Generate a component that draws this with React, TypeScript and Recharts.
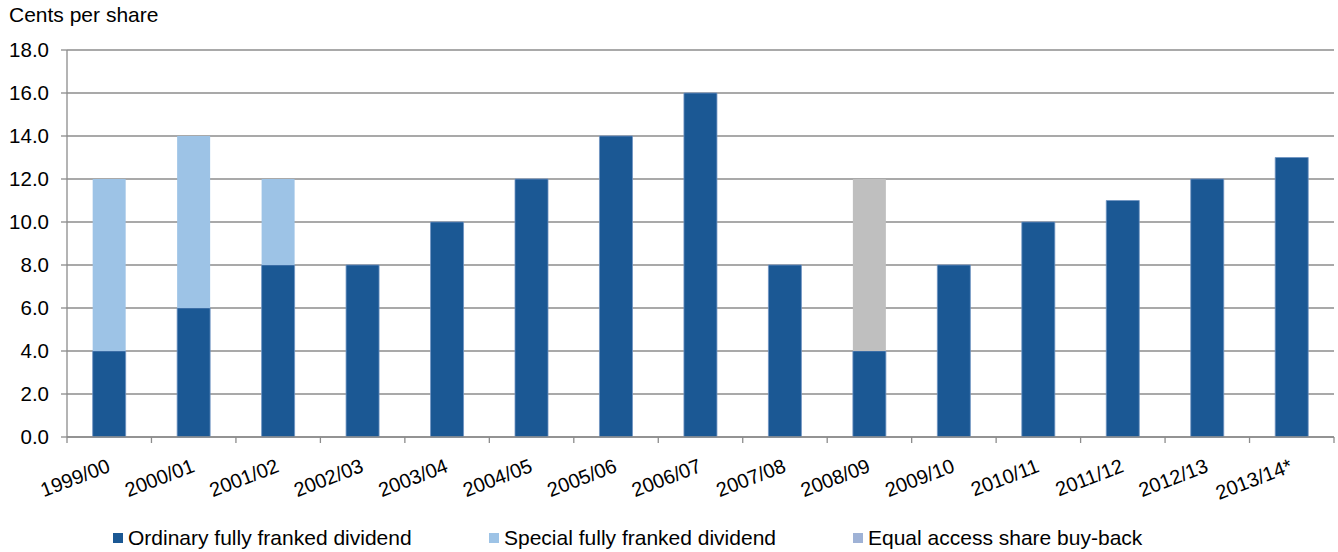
import { BarChart, Bar, XAxis, YAxis, CartesianGrid } from "recharts";

const YEARS = ["1999/00","2000/01","2001/02","2002/03","2003/04","2004/05","2005/06","2006/07","2007/08","2008/09","2009/10","2010/11","2011/12","2012/13","2013/14*"];
const ORDINARY = [4, 6, 8, 8, 10, 12, 14, 16, 8, 4, 8, 10, 11, 12, 13];
const SPECIAL = [8, 8, 4, 0, 0, 0, 0, 0, 0, 0, 0, 0, 0, 0, 0];
const BUYBACK = [0, 0, 0, 0, 0, 0, 0, 0, 0, 8, 0, 0, 0, 0, 0];
const Y_TICKS = [0, 2, 4, 6, 8, 10, 12, 14, 16, 18];

const W = 1338;
const H = 552;
const M = { top: 50, right: 4, bottom: 0, left: 0 };
const Y_W = 67;
const X_H = 115;
const PLOT_W = W - M.left - M.right - Y_W;
const BAND = PLOT_W / YEARS.length;
const FONT = '"Liberation Sans", Arial, sans-serif';
const GRID = "#8C8C8C";

const data = YEARS.map((y, i) => ({
  year: y, ordinary: ORDINARY[i], special: SPECIAL[i], buyback: BUYBACK[i],
}));

const LEGEND = [
  { label: "Ordinary fully franked dividend", color: "#1B5894", left: 113 },
  { label: "Special fully franked dividend", color: "#9DC3E6", left: 489 },
  { label: "Equal access share buy-back", color: "#9FB2D6", left: 853 },
];

const TICK_SIZE = 6;
const TICK_MARGIN = 12;

function XTick(props: any) {
  const { x, y, payload, index } = props;
  const axisY = y - TICK_SIZE - TICK_MARGIN;
  const left = x - BAND / 2;
  const tx = x - 3;
  const ty = y + 3;
  return (
    <g>
      <line x1={left} x2={left} y1={axisY} y2={axisY + TICK_SIZE} stroke={GRID} strokeWidth={1.3} />
      {index === YEARS.length - 1 && (
        <line x1={x + BAND / 2} x2={x + BAND / 2} y1={axisY} y2={axisY + TICK_SIZE} stroke={GRID} strokeWidth={1.3} />
      )}
      <text x={tx} y={ty} dy="0.71em" textAnchor="end" transform={`rotate(-21, ${tx}, ${ty})`}
        fontSize={20} fill="#000" fontFamily={FONT}>
        {payload.value}
      </text>
    </g>
  );
}

export default function App() {
  return (
    <div style={{ position: "absolute", left: 0, top: 0, width: W, height: H, background: "#fff", fontFamily: FONT }}>
      <div style={{ position: "absolute", left: 9, top: 3, fontSize: 21, color: "#000" }}>Cents per share</div>
      <BarChart width={W} height={H} data={data} margin={M} barCategoryGap="30.4%">
        <CartesianGrid vertical={false} stroke={GRID} strokeWidth={1.3} />
        <XAxis dataKey="year" interval={0} height={X_H} tick={<XTick />} tickLine={false}
          tickSize={TICK_SIZE} tickMargin={TICK_MARGIN} axisLine={{ stroke: GRID, strokeWidth: 1.3 }} />
        <YAxis width={Y_W} domain={[0, 18]} ticks={Y_TICKS} interval={0}
          tickFormatter={(v: number) => v.toFixed(1)} tickSize={TICK_SIZE} tickMargin={TICK_MARGIN}
          tick={{ fontSize: 20.5, fill: "#000", fontFamily: FONT }}
          tickLine={{ stroke: GRID, strokeWidth: 1.3 }} axisLine={{ stroke: GRID, strokeWidth: 1.3 }} />
        <Bar dataKey="ordinary" stackId="a" fill="#1B5894" stroke="#6F93C2" strokeWidth={0.8} isAnimationActive={false} />
        <Bar dataKey="special" stackId="a" fill="#9DC3E6" isAnimationActive={false} />
        <Bar dataKey="buyback" stackId="a" fill="#BFBFBF" isAnimationActive={false} />
      </BarChart>
      {LEGEND.map((l) => (
        <div key={l.label} style={{ position: "absolute", left: l.left, top: 526, display: "flex", alignItems: "center", fontSize: 21, color: "#000", whiteSpace: "nowrap" }}>
          <span style={{ display: "inline-block", width: 10, height: 10, background: l.color, marginRight: 5 }} />
          {l.label}
        </div>
      ))}
    </div>
  );
}
